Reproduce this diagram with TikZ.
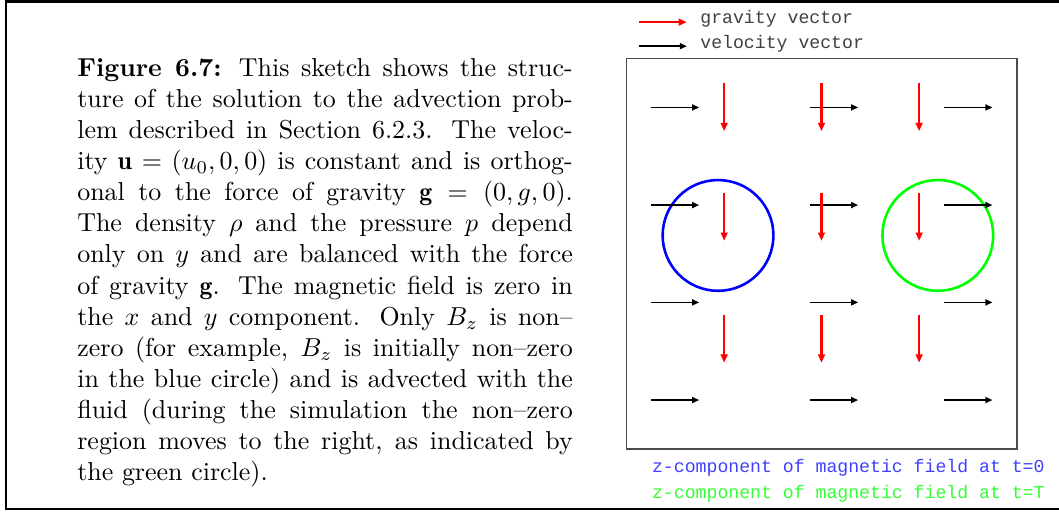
\documentclass[tikz,border=0pt]{standalone}
\usepackage{fontspec}
\newfontfamily\monofont{Liberation Mono}
\usetikzlibrary{arrows.meta}
\begin{document}
\begin{tikzpicture}[
	gravity/.style={line width=.8pt,color=red,-{Triangle[length=3.2pt,width=2.6pt]}},
	velocity/.style={line width=.6pt,color=black,-{Triangle[length=2.7pt,width=2.3pt]}},
	label/.style={anchor=base west,inner sep=0,font=\monofont\fontsize{7}{8}\selectfont}]
	\useasboundingbox (0,0) rectangle (14.34,6.92);
	
	%Frame
	\draw[line width=1pt] (14.6,6.90)--(0.08,6.90)--(0.08,0.03)--(14.6,0.03);
	
	%Caption
	\node[anchor=base west,inner sep=0,text width=6.71cm,align=justify] at (1.04,5.89) (caption) {\textbf{Figure 6.7:} This sketch shows the struc-\linebreak
	ture of the solution to the advection prob-\linebreak
	lem described in Section 6.2.3. The veloc-\linebreak
	ity $\mathbf{u}=(u_0,0,0)$ is constant and is orthog-\linebreak
	onal to the force of gravity $\mathbf{g} = (0,g,0)$.\linebreak
	The density $\rho$ and the pressure $p$ depend\linebreak
	only on $y$ and are balanced with the force\linebreak
	of gravity $\mathbf{g}$. The magnetic field is zero in\linebreak
	the $x$ and $y$ component. Only $B_z$ is non--\linebreak
	zero (for example, $B_z$ is initially non--zero\linebreak
	in the blue circle) and is advected with the\linebreak
	fluid (during the simulation the non--zero\linebreak
	region moves to the right, as indicated by\linebreak
	the green circle).};
	
	%Legend
	\draw[gravity] (8.651,6.620)--(9.301,6.620);
	\draw[velocity] (8.651,6.295)--(9.301,6.295);
	\node[label,text=black!75] at (9.477,6.603) (gravitylabel) {gravity vector};
	\node[label,text=black!75] at (9.477,6.264) (velocitylabel) {velocity vector};
	
	%Box
	\draw[line width=.6pt,color=black!70] (8.484,0.839) rectangle (13.768,6.129);
	
	%Circles
	\draw[line width=1pt,color=blue] (9.723,3.732) circle (.75);
	\draw[line width=1pt,color=green] (12.699,3.732) circle (.75);
	
	%Velocity
	\draw[velocity] (8.813,5.465)--(9.467,5.465);
	\draw[velocity] (10.962,5.465)--(11.620,5.465);
	\draw[velocity] (12.780,5.465)--(13.439,5.465);
	\draw[velocity] (8.813,4.143)--(9.467,4.143);
	\draw[velocity] (10.962,4.143)--(11.620,4.143);
	\draw[velocity] (12.780,4.143)--(13.439,4.143);
	\draw[velocity] (8.813,2.825)--(9.467,2.825);
	\draw[velocity] (10.962,2.825)--(11.620,2.825);
	\draw[velocity] (12.780,2.825)--(13.439,2.825);
	\draw[velocity] (8.813,1.503)--(9.467,1.503);
	\draw[velocity] (10.962,1.503)--(11.620,1.503);
	\draw[velocity] (12.780,1.503)--(13.439,1.503);
	
	%Gravity
	\draw[gravity] (9.806,5.798)--(9.806,5.144);
	\draw[gravity] (11.124,5.798)--(11.124,5.144);
	\draw[gravity] (12.446,5.798)--(12.446,5.144);
	\draw[gravity] (9.806,4.309)--(9.806,3.659);
	\draw[gravity] (11.124,4.309)--(11.124,3.659);
	\draw[gravity] (12.446,4.309)--(12.446,3.659);
	\draw[gravity] (9.806,2.653)--(9.806,2.008);
	\draw[gravity] (11.124,2.653)--(11.124,2.008);
	\draw[gravity] (12.446,2.653)--(12.446,2.008);
	
	%Field labels
	\node[label,text=blue!75] at (8.823,0.517) (bzero) {z-component of magnetic field at t=0};
	\node[label,text=green!80] at (8.823,0.172) (bfinal) {z-component of magnetic field at t=T};
	
\end{tikzpicture}
\end{document}
